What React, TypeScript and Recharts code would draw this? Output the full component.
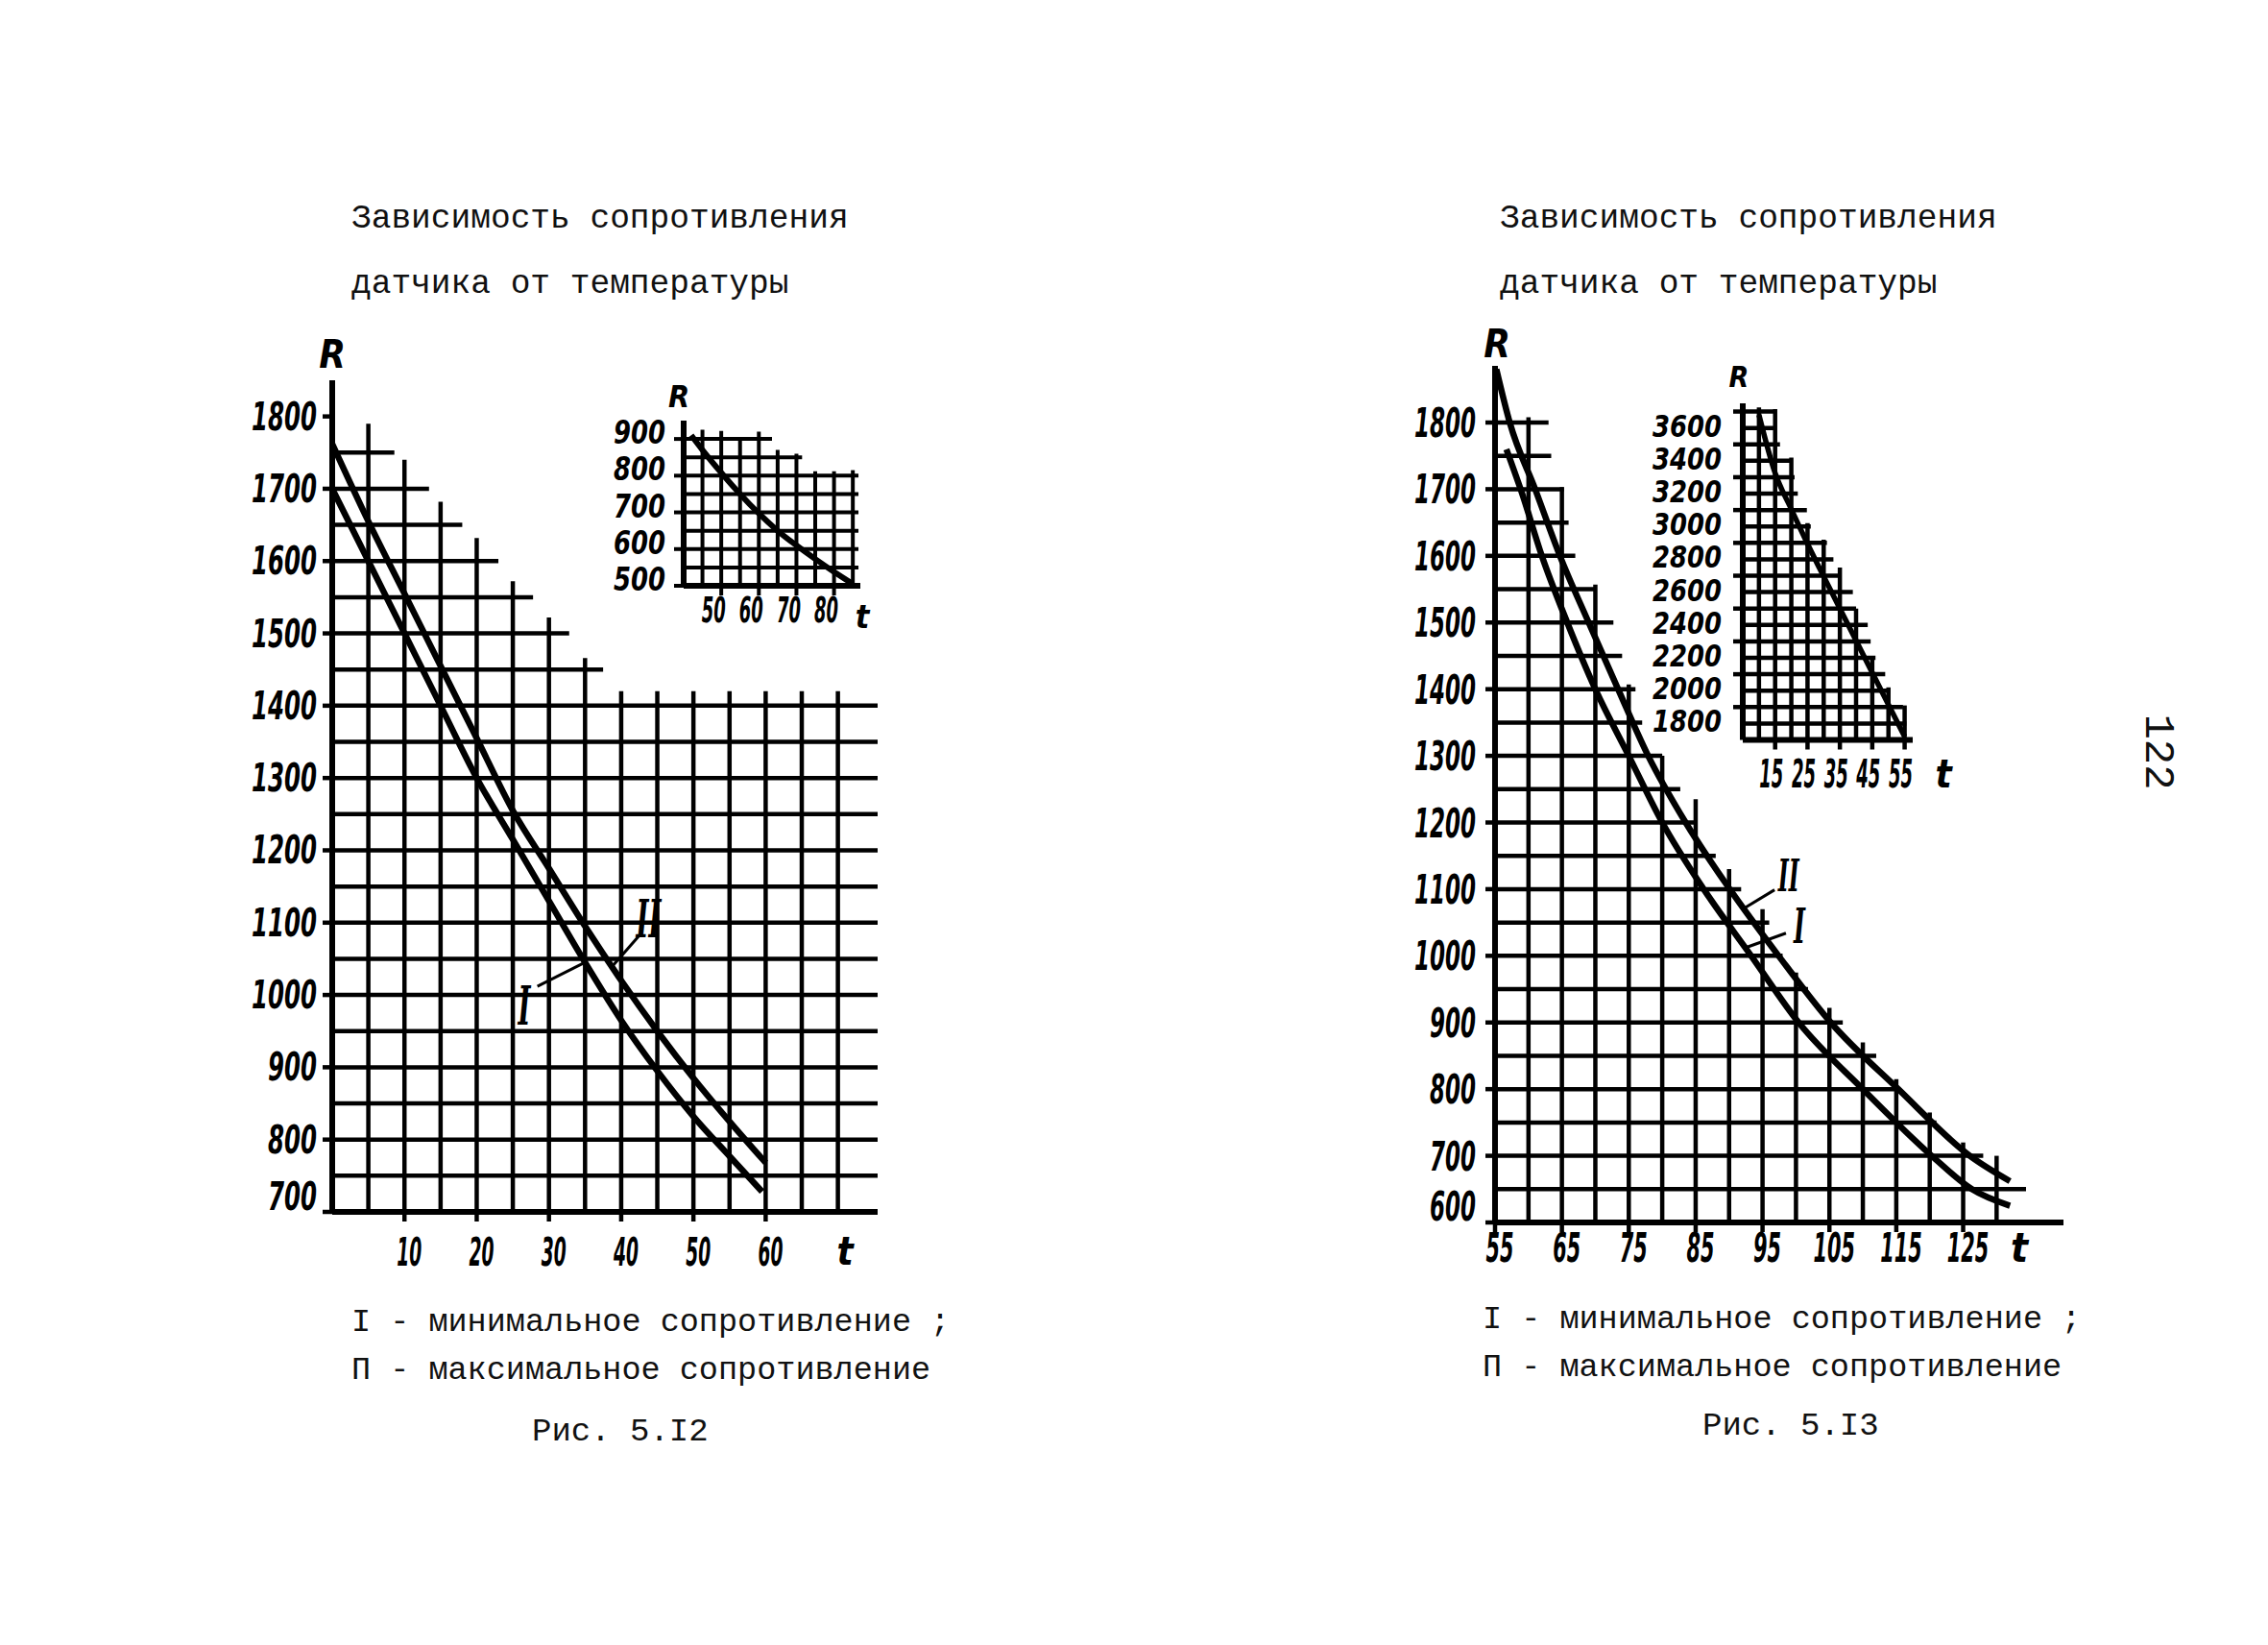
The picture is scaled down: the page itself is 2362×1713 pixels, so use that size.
import React from 'react';
import { LineChart, Line, XAxis, YAxis, ReferenceLine, ReferenceDot } from 'recharts';

// ---------- Рис. 5.12 (main chart) ----------
const leftMinT = [0, 5, 10, 15, 20, 25, 30, 35, 40, 45, 50, 55, 59.5];
const leftMinR = [1700, 1600, 1500, 1400, 1300, 1215, 1130, 1045, 965, 895, 832, 777, 728];
const leftMaxT = [0, 5, 10, 15, 20, 25, 30, 35, 40, 45, 50, 55, 60];
const leftMaxR = [1762, 1655, 1555, 1455, 1355, 1255, 1175, 1095, 1020, 950, 885, 825, 768];
const leftXTicks = [10, 20, 30, 40, 50, 60];
const leftYTicks = [700, 800, 900, 1000, 1100, 1200, 1300, 1400, 1500, 1600, 1700, 1800];
// grid extents (the grid is cut in a staircase above the curves)
const leftGridT = [5, 10, 15, 20, 25, 30, 35, 40, 45, 50, 55, 60, 65, 70];
const leftGridTop = [1790, 1740, 1682, 1632, 1572, 1522, 1466, 1420, 1420, 1420, 1420, 1420, 1420, 1420];
const leftGridR = [750, 800, 850, 900, 950, 1000, 1050, 1100, 1150, 1200, 1250, 1300, 1350, 1400, 1450, 1500, 1550, 1600, 1650, 1700, 1750];
const leftGridRight = [75.5, 75.5, 75.5, 75.5, 75.5, 75.5, 75.5, 75.5, 75.5, 75.5, 75.5, 75.5, 75.5, 75.5, 37.5, 32.8, 27.8, 23, 18, 13.4, 8.6];

// ---------- Рис. 5.12 (inset) ----------
const insetLT = [42, 45, 50, 55, 60, 65, 70, 75, 80, 85];
const insetLR = [910, 870, 808, 750, 697, 650, 610, 573, 538, 505];
const insetLXTicks = [50, 60, 70, 80];
const insetLYTicks = [500, 600, 700, 800, 900];
const insetLGridT = [45, 50, 55, 60, 65, 70, 75, 80, 85];
const insetLGridTop = [925, 922, 905, 920, 870, 860, 812, 812, 815];
const insetLGridR = [550, 600, 650, 700, 750, 800, 850, 900];
const insetLGridRight = [86.5, 86.5, 86.5, 86.5, 86.5, 86.5, 71.5, 63.5];

// ---------- Рис. 5.13 (main chart) ----------
const rightMinT = [56.7, 59, 62, 65.8, 70, 75, 80, 86.2, 93.3, 100.4, 110, 120.3, 126.3, 132];
const rightMinR = [1760, 1695, 1600, 1500, 1400, 1300, 1200, 1100, 1000, 900, 800, 700, 650, 625];
const rightMaxT = [55.2, 57.2, 61, 64.7, 69, 73.4, 77.9, 83.5, 90.1, 97.4, 105.2, 115.3, 126, 132];
const rightMaxR = [1880, 1800, 1700, 1600, 1500, 1400, 1300, 1200, 1100, 1000, 900, 800, 700, 662];
const rightXTicks = [55, 65, 75, 85, 95, 105, 115, 125];
const rightYTicks = [600, 700, 800, 900, 1000, 1100, 1200, 1300, 1400, 1500, 1600, 1700, 1800];
const rightGridT = [60, 65, 70, 75, 80, 85, 90, 95, 100, 105, 110, 115, 120, 125, 130];
const rightGridTop = [1808, 1703, 1557, 1407, 1300, 1235, 1130, 1070, 975, 922, 870, 815, 765, 720, 700];
const rightGridR = [650, 700, 750, 800, 850, 900, 950, 1000, 1050, 1100, 1150, 1200, 1250, 1300, 1350, 1400, 1450, 1500, 1550, 1600, 1650, 1700, 1750, 1800];
const rightGridRight = [134.4, 128, 121, 115.6, 112, 107, 101.8, 98, 96, 91.8, 88, 85, 82.7, 80, 77, 76, 74, 72.7, 70, 67, 66, 65.3, 63.4, 63];

// ---------- Рис. 5.13 (inset) ----------
const insetRT = [10, 15, 20, 25, 30, 35, 40, 45, 50, 55];
const insetRR = [3580, 3225, 3005, 2795, 2595, 2400, 2205, 2010, 1815, 1620];
const insetRXTicks = [15, 25, 35, 45, 55];
const insetRYTicks = [1800, 2000, 2200, 2400, 2600, 2800, 3000, 3200, 3400, 3600];
const insetRGridT = [10, 15, 20, 25, 30, 35, 40, 45, 50, 55];
const insetRGridTop = [3625, 3615, 3320, 2920, 2820, 2650, 2400, 2100, 1920, 1810];
const insetRGridR = [1700, 1800, 1900, 2000, 2100, 2200, 2300, 2400, 2500, 2600, 2700, 2800, 2900, 3000, 3100, 3200, 3300, 3400, 3500, 3600];
const insetRGridRight = [55.5, 54.5, 50.5, 49, 46, 44.5, 43.6, 40, 39, 35, 33, 31, 26, 24.8, 22, 21, 20, 16.5, 15, 15.4];

const NUM_FONT = '"DejaVu Sans Condensed", "DejaVu Sans", sans-serif';
const TYPE_FONT = '"Liberation Mono", "DejaVu Sans Mono", monospace';
const ROMAN_FONT = '"DejaVu Serif", "Liberation Serif", serif';
const DIGIT_W = 0.626; // advance of a digit in the condensed bold face, in em

const PAD_L = 120, PAD_R = 30, PAD_T = 10, PAD_B = 90, Y_W = 110, X_H = 70;

const pts = (ts: number[], rs: number[]) => ts.map((t, i) => ({ t, r: rs[i] }));

type TickStyle = { size: number; charW: number; dx: number; dy: number; anchor: 'start' | 'middle' | 'end'; first?: number; firstDy?: number };

// narrow, tall stencil-like digits: small font stretched vertically
const tickRenderer = (s: TickStyle) => (props: any) => {
  const { x, y, payload } = props;
  const label = String(payload.value);
  const extra = s.first !== undefined && payload.value === s.first ? s.firstDy ?? 0 : 0;
  const f = s.charW / DIGIT_W;
  const k = s.size / f;
  return (
    <text
      transform={`translate(${x + s.dx},${y + s.dy + extra}) scale(1,${k.toFixed(3)})`}
      textAnchor={s.anchor}
      fontFamily={NUM_FONT}
      fontSize={f}
      fontWeight="bold"
      fontStyle="italic"
      textLength={label.length * s.charW}
      lengthAdjust="spacingAndGlyphs"
      fill="#000"
    >
      {label}
    </text>
  );
};

type Mark = { text: string; t: number; r: number; size: number; width: number };
type Leader = [number, number, number, number];

interface PanelProps {
  box: { left: number; top: number; width: number; height: number };
  xDomain: [number, number];
  yDomain: [number, number];
  xTicks: number[];
  yTicks: number[];
  xTick: TickStyle;
  yTick: TickStyle;
  curves: Array<{ t: number; r: number }[]>;
  gridT: number[];
  gridTop: number[];
  gridR: number[];
  gridRight: number[];
  gridW: number;
  axisW: number;
  lineW: number;
  marks?: Mark[];
  leaders?: Leader[];
}

function Panel(p: PanelProps) {
  const W = p.box.width + PAD_L + PAD_R;
  const H = p.box.height + PAD_T + PAD_B;
  const [x0] = p.xDomain;
  const [y0] = p.yDomain;
  return (
    <div style={{ position: 'absolute', left: p.box.left - PAD_L, top: p.box.top - PAD_T }}>
      <LineChart width={W} height={H} margin={{ top: PAD_T, right: PAD_R, bottom: PAD_B - X_H, left: PAD_L - Y_W }}>
        <XAxis
          type="number"
          dataKey="t"
          domain={p.xDomain}
          allowDataOverflow
          ticks={p.xTicks}
          interval={0}
          height={X_H}
          tickSize={10}
          tickMargin={6}
          axisLine={{ stroke: '#000', strokeWidth: p.axisW }}
          tickLine={{ stroke: '#000', strokeWidth: p.gridW }}
          tick={tickRenderer(p.xTick)}
        />
        <YAxis
          type="number"
          dataKey="r"
          domain={p.yDomain}
          allowDataOverflow
          ticks={p.yTicks}
          interval={0}
          width={Y_W}
          tickSize={10}
          tickMargin={6}
          axisLine={{ stroke: '#000', strokeWidth: p.axisW }}
          tickLine={{ stroke: '#000', strokeWidth: p.gridW }}
          tick={tickRenderer(p.yTick)}
        />
        {p.gridT.map((t, i) => (
          <ReferenceLine key={`v${t}`} segment={[{ x: t, y: y0 }, { x: t, y: p.gridTop[i] }]} stroke="#000" strokeWidth={p.gridW} ifOverflow="visible" />
        ))}
        {p.gridR.map((r, i) => (
          <ReferenceLine key={`h${r}`} segment={[{ x: x0, y: r }, { x: p.gridRight[i], y: r }]} stroke="#000" strokeWidth={p.gridW} ifOverflow="visible" />
        ))}
        {(p.leaders ?? []).map((l, i) => (
          <ReferenceLine key={`l${i}`} segment={[{ x: l[0], y: l[1] }, { x: l[2], y: l[3] }]} stroke="#000" strokeWidth={3} ifOverflow="visible" />
        ))}
        {p.curves.map((c, i) => (
          <Line key={`c${i}`} data={c} dataKey="r" type="monotone" stroke="#000" strokeWidth={p.lineW} dot={false} isAnimationActive={false} />
        ))}
        {(p.marks ?? []).map((m, i) => (
          <ReferenceDot
            key={`m${i}`}
            x={m.t}
            y={m.r}
            r={0}
            ifOverflow="visible"
            shape={(d: any) => (
              <text
                x={d.cx}
                y={d.cy + m.size * 0.36}
                textAnchor="middle"
                fontFamily={ROMAN_FONT}
                fontSize={m.size}
                fontWeight="bold"
                fontStyle="italic"
                textLength={m.width}
                lengthAdjust="spacingAndGlyphs"
                fill="#000"
              >
                {m.text}
              </text>
            )}
          />
        ))}
      </LineChart>
    </div>
  );
}

const axisLetter = (x: number, y: number, s: number, txt: string) => (
  <text x={x} y={y + s * 0.36} textAnchor="middle" fontFamily={NUM_FONT} fontSize={s} fontWeight="bold" fontStyle="italic" fill="#000">
    {txt}
  </text>
);

export default function App() {
  return (
    <div style={{ position: 'absolute', left: 0, top: 0, width: 2362, height: 1713, background: '#fff', overflow: 'hidden' }}>
      <Panel
        box={{ left: 346, top: 396, width: 568, height: 866 }}
        xDomain={[0, 75.5]}
        yDomain={[700, 1850]}
        xTicks={leftXTicks}
        yTicks={leftYTicks}
        xTick={{ size: 40, charW: 13, dx: 5, dy: 40, anchor: 'middle' }}
        yTick={{ size: 40, charW: 17, dx: 0, dy: 14, anchor: 'end', first: 700, firstDy: -16 }}
        curves={[pts(leftMinT, leftMinR), pts(leftMaxT, leftMaxR)]}
        gridT={leftGridT}
        gridTop={leftGridTop}
        gridR={leftGridR}
        gridRight={leftGridRight}
        gridW={4.5}
        axisW={6}
        lineW={6.5}
        marks={[
          { text: 'II', t: 43.8, r: 1106, size: 54, width: 26 },
          { text: 'I', t: 26.6, r: 986, size: 56, width: 13 },
        ]}
        leaders={[
          [42.5, 1082, 38.8, 1040],
          [28.4, 1012, 35, 1045],
        ]}
      />
      <Panel
        box={{ left: 712, top: 438, width: 184, height: 172 }}
        xDomain={[40, 87]}
        yDomain={[500, 950]}
        xTicks={insetLXTicks}
        yTicks={insetLYTicks}
        xTick={{ size: 38, charW: 12.5, dx: -8, dy: 22, anchor: 'middle' }}
        yTick={{ size: 33, charW: 18, dx: -3, dy: 5, anchor: 'end' }}
        curves={[pts(insetLT, insetLR)]}
        gridT={insetLGridT}
        gridTop={insetLGridTop}
        gridR={insetLGridR}
        gridRight={insetLGridRight}
        gridW={4}
        axisW={6}
        lineW={6}
      />
      <Panel
        box={{ left: 1557, top: 381, width: 592, height: 892 }}
        xDomain={[55, 140]}
        yDomain={[600, 1885]}
        xTicks={rightXTicks}
        yTicks={rightYTicks}
        xTick={{ size: 42, charW: 14.5, dx: 5, dy: 25, anchor: 'middle' }}
        yTick={{ size: 42, charW: 16, dx: -4, dy: 15, anchor: 'end', first: 600, firstDy: -17 }}
        curves={[pts(rightMinT, rightMinR), pts(rightMaxT, rightMaxR)]}
        gridT={rightGridT}
        gridTop={rightGridTop}
        gridR={rightGridR}
        gridRight={rightGridRight}
        gridW={4.5}
        axisW={6}
        lineW={6.5}
        marks={[
          { text: 'II', t: 98.9, r: 1121, size: 46, width: 22 },
          { text: 'I', t: 100.5, r: 1045, size: 50, width: 12 },
        ]}
        leaders={[
          [96.8, 1099, 92.2, 1071],
          [98.5, 1034, 92.4, 1012],
        ]}
      />
      <Panel
        box={{ left: 1815, top: 419.5, width: 177, height: 350.5 }}
        xDomain={[5, 57.5]}
        yDomain={[1600, 3650]}
        xTicks={insetRXTicks}
        yTicks={insetRYTicks}
        xTick={{ size: 40, charW: 12.5, dx: -4, dy: 33, anchor: 'middle' }}
        yTick={{ size: 32, charW: 18, dx: -6, dy: 26, anchor: 'end' }}
        curves={[pts(insetRT, insetRR)]}
        gridT={insetRGridT}
        gridTop={insetRGridTop}
        gridR={insetRGridR}
        gridRight={insetRGridRight}
        gridW={4.5}
        axisW={6}
        lineW={5.5}
      />
      <svg width={2362} height={1713} style={{ position: 'absolute', left: 0, top: 0, pointerEvents: 'none' }}>
        <g fontFamily={TYPE_FONT} fill="#111">
          <text x={366} y={237} fontSize={34.5}>Зависимость сопротивления</text>
          <text x={366} y={305} fontSize={34.5}>датчика от температуры</text>
          <text x={1562} y={237} fontSize={34.5}>Зависимость сопротивления</text>
          <text x={1562} y={305} fontSize={34.5}>датчика от температуры</text>
          <text x={366} y={1386} fontSize={33.5}>I - минимальное сопротивление ;</text>
          <text x={366} y={1436} fontSize={33.5}>П - максимальное сопротивление</text>
          <text x={554} y={1500} fontSize={34}>Рис. 5.I2</text>
          <text x={1544} y={1383} fontSize={33.5}>I - минимальное сопротивление ;</text>
          <text x={1544} y={1433} fontSize={33.5}>П - максимальное сопротивление</text>
          <text x={1773} y={1494} fontSize={34}>Рис. 5.I3</text>
          <text transform="translate(2247,783) rotate(90)" textAnchor="middle" dominantBaseline="central" fontSize={44}>122</text>
        </g>
        {axisLetter(346, 369, 40, 'R')}
        {axisLetter(707, 412, 32, 'R')}
        {axisLetter(1559, 358, 40, 'R')}
        {axisLetter(1811, 392, 30, 'R')}
        {axisLetter(880, 1303, 40, 't')}
        {axisLetter(898, 642, 34, 't')}
        {axisLetter(2103, 1299, 42, 't')}
        {axisLetter(2024, 806, 40, 't')}
      </svg>
    </div>
  );
}
